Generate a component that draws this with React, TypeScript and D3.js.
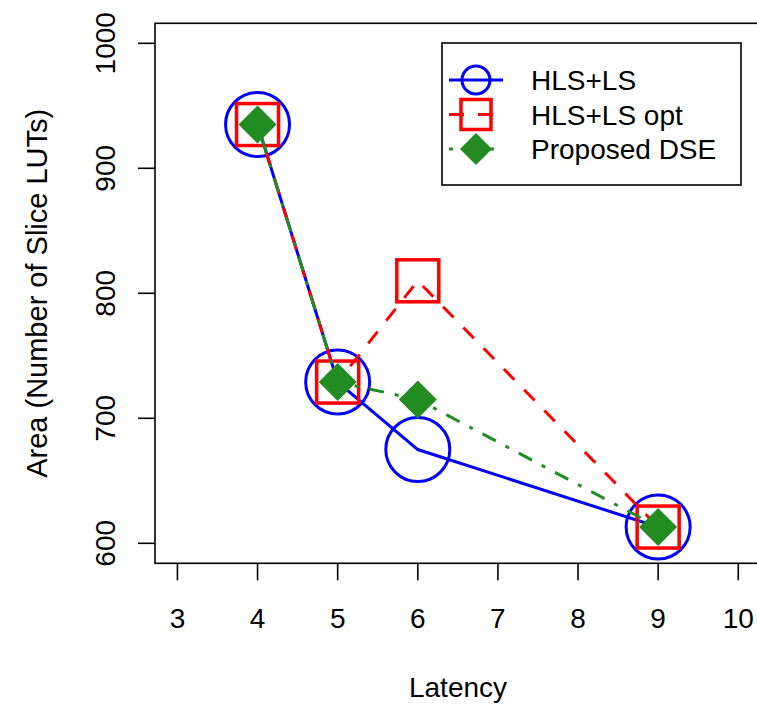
import * as d3 from "d3";

const latency = [4, 5, 6, 9];
const hlsLs = [935, 729, 675, 613];
const hlsLsOpt = [935, 729, 810, 613];
const proposedDse = [935, 729, 715, 613];

const xTicks = [3, 4, 5, 6, 7, 8, 9, 10];
const yTicks = [600, 700, 800, 900, 1000];
const seriesNames = ["HLS+LS", "HLS+LS opt", "Proposed DSE"];

const width = 757;
const height = 706;
const font = "'Liberation Sans', Arial, sans-serif";
const fs = 28;

const blue = "#0000ff";
const red = "#ff0000";
const green = "#228b22";

function diamond(cx: number, cy: number, r: number) {
  return `M${cx},${cy - r}L${cx + r},${cy}L${cx},${cy + r}L${cx - r},${cy}Z`;
}

export default function App() {
  // R style: xlim c(3,10), ylim c(600,1000) with 4% padding
  const x = d3.scaleLinear().domain([2.72, 10.28]).range([155, 760.7]);
  const y = d3.scaleLinear().domain([584, 1016]).range([563.3, 23.3]);

  const line = d3
    .line<number>()
    .x((_, i) => x(latency[i]))
    .y((d) => y(d));

  const left = x.range()[0];
  const bottom = y.range()[0];
  const top = y.range()[1];

  const legendRows = [80, 114.5, 149];

  return (
    <svg
      width={width}
      height={height}
      style={{ position: "absolute", left: 0, top: 0, background: "#fff" }}
      fontFamily={font}
    >
      <rect x={0} y={0} width={width} height={height} fill="#fff" />

      {/* blue series */}
      <path d={line(hlsLs) ?? ""} fill="none" stroke={blue} strokeWidth={3} />
      {hlsLs.map((v, i) => (
        <circle key={"c" + i} cx={x(latency[i])} cy={y(v)} r={32} fill="none" stroke={blue} strokeWidth={3} />
      ))}

      {/* red series */}
      <path d={line(hlsLsOpt) ?? ""} fill="none" stroke={red} strokeWidth={3} strokeDasharray="15,14" />
      {hlsLsOpt.map((v, i) => (
        <rect key={"s" + i} x={x(latency[i]) - 21} y={y(v) - 21} width={42} height={42} fill="none" stroke={red} strokeWidth={3.5} />
      ))}

      {/* green series */}
      <path d={line(proposedDse) ?? ""} fill="none" stroke={green} strokeWidth={3} strokeDasharray="4,11,15,11" />
      {proposedDse.map((v, i) => (
        <path key={"d" + i} d={diamond(x(latency[i]), y(v), 19)} fill={green} />
      ))}

      {/* plot box */}
      <rect x={left} y={top} width={x.range()[1] - left} height={bottom - top} fill="none" stroke="#000" strokeWidth={1.6} />

      {/* x axis */}
      {xTicks.map((t) => (
        <g key={"xt" + t}>
          <line x1={x(t)} x2={x(t)} y1={bottom} y2={bottom + 17} stroke="#000" strokeWidth={1.6} />
          <text x={x(t)} y={628} textAnchor="middle" fontSize={fs} fill="#000">
            {t}
          </text>
        </g>
      ))}
      <text x={458} y={697} textAnchor="middle" fontSize={fs} fill="#000">
        Latency
      </text>

      {/* y axis */}
      {yTicks.map((t) => (
        <g key={"yt" + t}>
          <line x1={left - 17} x2={left} y1={y(t)} y2={y(t)} stroke="#000" strokeWidth={1.6} />
          <text
            transform={`translate(115,${y(t)}) rotate(-90)`}
            textAnchor="middle"
            fontSize={fs}
            fill="#000"
          >
            {t}
          </text>
        </g>
      ))}
      <text
        transform={`translate(47,${(top + bottom) / 2}) rotate(-90)`}
        textAnchor="middle"
        fontSize={29}
        fill="#000"
      >
        Area (Number of Slice LUTs)
      </text>

      {/* legend */}
      <rect x={442} y={43} width={299} height={142} fill="#fff" stroke="#000" strokeWidth={1.6} />
      <line x1={449} x2={503} y1={legendRows[0]} y2={legendRows[0]} stroke={blue} strokeWidth={3} />
      <circle cx={476} cy={legendRows[0]} r={14} fill="none" stroke={blue} strokeWidth={3} />
      <line x1={449} x2={503} y1={legendRows[1]} y2={legendRows[1]} stroke={red} strokeWidth={3} strokeDasharray="15,14" />
      <rect x={461} y={legendRows[1] - 15} width={30} height={30} fill="none" stroke={red} strokeWidth={3.5} />
      <line x1={449} x2={503} y1={legendRows[2]} y2={legendRows[2]} stroke={green} strokeWidth={3} strokeDasharray="4,11,15,11" />
      <path d={diamond(476, legendRows[2], 16)} fill={green} />
      {seriesNames.map((n, i) => (
        <text key={n} x={531} y={legendRows[i] + 10} fontSize={fs} fill="#000">
          {n}
        </text>
      ))}
    </svg>
  );
}
